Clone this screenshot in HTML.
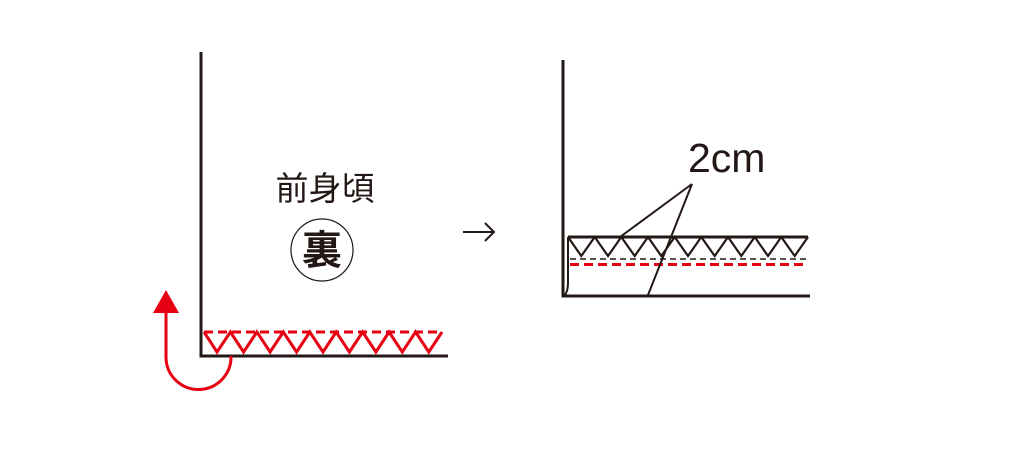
<!DOCTYPE html>
<html><head><meta charset="utf-8"><style>
html,body{margin:0;padding:0;background:#fff;}
svg{display:block;}
text{font-family:"Liberation Sans","Noto Sans CJK JP",sans-serif;fill:#231815;}
</style></head><body>
<svg width="1024" height="455" viewBox="0 0 1024 455" xmlns="http://www.w3.org/2000/svg">
<!-- left panel -->
<polyline points="201,52 201,356 448,356" fill="none" stroke="#231815" stroke-width="3"/>
<line x1="204" y1="332" x2="442" y2="332" stroke="#e60012" stroke-width="3" stroke-dasharray="9,5"/>
<polyline points="204,332 217,352 230.4,332 243.6,352 256.9,332 270.1,352 283.3,332 296.6,352 309.8,332 323,352 336.2,332 349.4,352 362.7,332 375.9,352 389.1,332 402.3,352 415.6,332 428.8,352 442,332" fill="none" stroke="#e60012" stroke-width="3"/>
<path d="M231,356 A32.5,32.5 0 0 1 166,358 L166,310" fill="none" stroke="#e60012" stroke-width="3"/>
<polygon points="166,290 153,313 179,313" fill="#e60012"/>
<text x="325" y="200" font-size="33" text-anchor="middle">前身頃</text>
<circle cx="322" cy="250" r="31" fill="none" stroke="#231815" stroke-width="1.2"/>
<text x="322" y="264" font-size="40" text-anchor="middle" font-weight="bold">裏</text>
<!-- arrow -->
<line x1="463" y1="232" x2="494" y2="232" stroke="#231815" stroke-width="2"/>
<polyline points="485,223 494,232 485,241" fill="none" stroke="#231815" stroke-width="2"/>
<!-- right panel -->
<polyline points="563,60 563,296 810,296" fill="none" stroke="#231815" stroke-width="3"/>
<line x1="568" y1="237" x2="808" y2="237" stroke="#231815" stroke-width="3"/>
<path d="M568,237 L568,282 Q568,294 563,296" fill="none" stroke="#231815" stroke-width="2"/>
<polyline points="568,237 581.3,256 594.7,237 608,256 621.3,237 634.7,256 648,237 661.3,256 674.7,237 688,256 701.3,237 714.7,256 728,237 741.3,256 754.7,237 768,256 781.3,237 794.7,256 808,237" fill="none" stroke="#231815" stroke-width="2.2"/>
<line x1="570" y1="259" x2="806" y2="259" stroke="#231815" stroke-width="1.5" stroke-dasharray="6,4"/>
<line x1="570" y1="264.5" x2="806" y2="264.5" stroke="#e60012" stroke-width="3" stroke-dasharray="9,5"/>
<line x1="692" y1="184" x2="620" y2="237" stroke="#231815" stroke-width="2"/>
<line x1="692" y1="184" x2="648" y2="295" stroke="#231815" stroke-width="2"/>
<text x="688" y="172" font-size="41">2cm</text>
</svg>
</body></html>
